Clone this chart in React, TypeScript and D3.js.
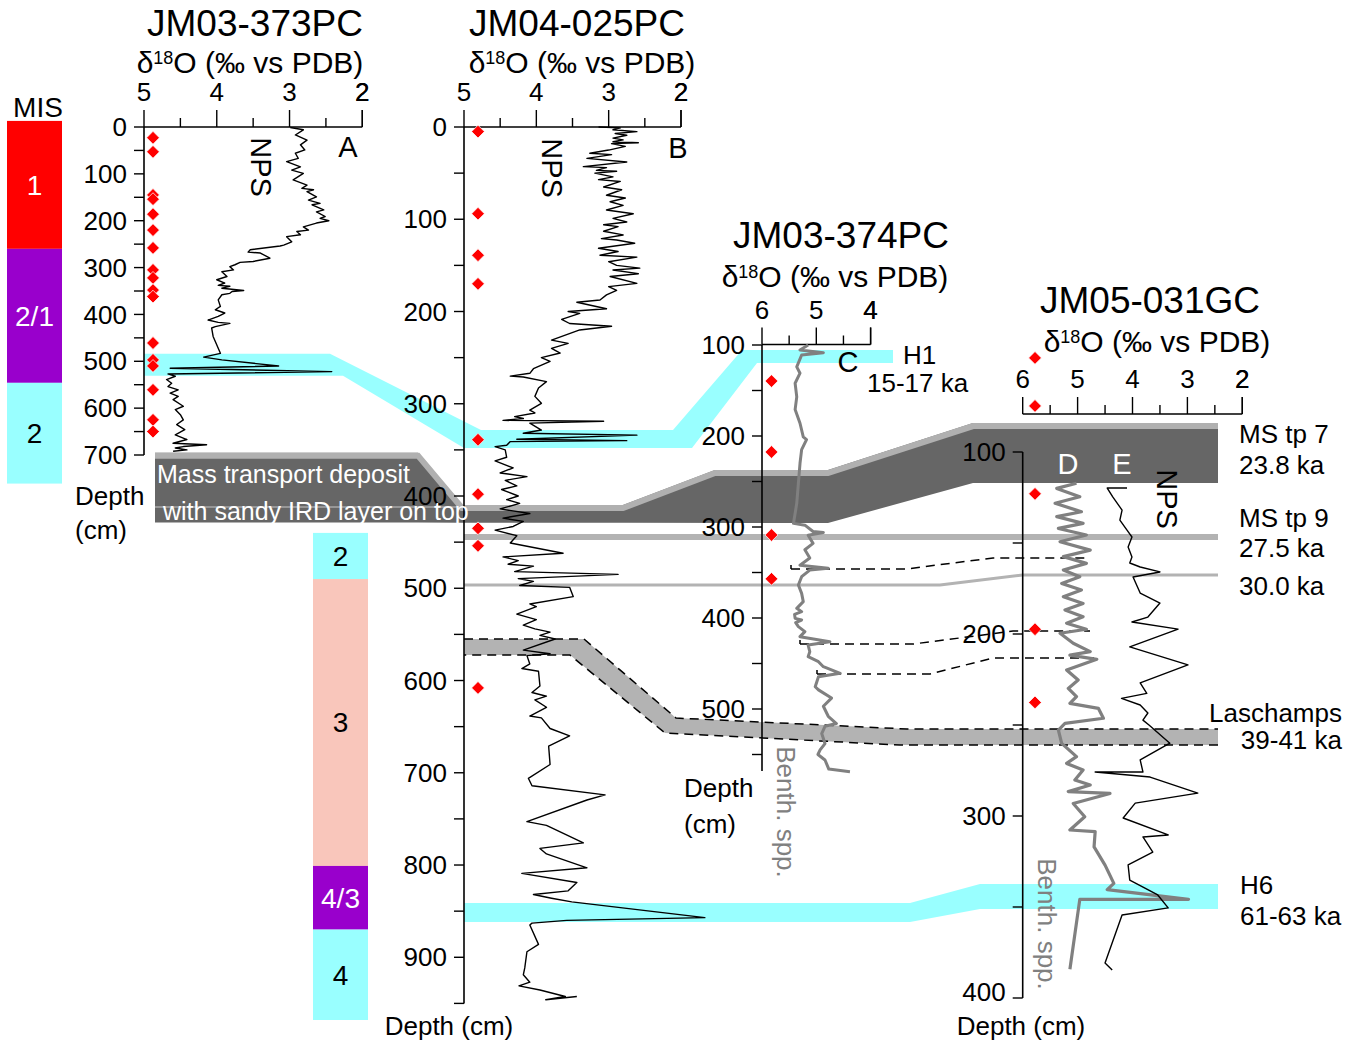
import React from 'react';
import * as d3 from 'd3';

type Pt = [number, number]; // [depth (cm), δ18O (‰)]
type Core = 'A' | 'B' | 'C' | 'D';

// ---------- isotope records ----------
// JM03-373PC, N. pachyderma (s)
const core373NPS: Pt[] = [
  [1, 2.99], [6, 2.81], [17, 2.92], [28, 2.76], [38, 2.85], [49, 2.79], [56, 2.92], [67, 2.88], [74, 3.04],
  [85, 2.85], [92, 2.97], [99, 2.81], [113, 2.95], [124, 2.76], [131, 2.83], [134, 2.67], [138, 2.76],
  [149, 2.63], [156, 2.74], [163, 2.58], [166, 2.69], [177, 2.53], [181, 2.63], [191, 2.51], [195, 2.58],
  [200, 2.46], [205, 2.63], [213, 2.81], [220, 2.74], [223, 2.9], [230, 2.85], [234, 3.04], [245, 2.97],
  [252, 3.08], [254, 3.13], [262, 3.54], [267, 3.57], [269, 3.4], [280, 3.27], [287, 3.5], [289, 3.68],
  [294, 3.75], [298, 3.82], [305, 3.77], [309, 3.93], [319, 3.86], [326, 4.0], [333, 3.89], [338, 3.98],
  [340, 3.82], [344, 3.93], [349, 3.63], [351, 3.79], [355, 3.82], [358, 3.93], [369, 3.98], [383, 3.95],
  [390, 4.02], [397, 3.89], [404, 3.98], [412, 4.12], [417, 3.98], [419, 3.82], [426, 4.02], [429, 4.07],
  [447, 4.05], [483, 3.95], [491, 4.18], [497, 3.93], [510, 3.15], [515, 4.64], [522, 2.42], [527, 4.67],
  [532, 4.57], [539, 4.69], [547, 4.62], [554, 4.67], [561, 4.53], [568, 4.64], [575, 4.53], [582, 4.6],
  [596, 4.46], [603, 4.57], [614, 4.5], [625, 4.46], [635, 4.55], [646, 4.44], [657, 4.57], [667, 4.41],
  [675, 4.6], [678, 4.14], [682, 4.46], [685, 4.57], [689, 4.41], [692, 4.6],
];

// JM04-025PC, N. pachyderma (s)
const core025NPS: Pt[] = [
  [0, 3.14], [1, 2.84], [3, 2.94], [5, 2.61], [7, 2.91], [9, 2.75], [12, 2.94], [14, 2.8], [16, 2.94],
  [17, 2.59], [18, 2.96], [21, 2.77], [25, 3.0], [28.5, 3.26], [30, 2.96], [34, 3.3], [38, 2.75], [43, 3.35],
  [44, 3.03], [47, 3.17], [48, 2.89], [50, 3.19], [54, 2.94], [57, 3.14], [59, 2.84], [65, 3.07], [68, 2.82],
  [74, 3.03], [77, 2.77], [81, 2.98], [85, 2.8], [90, 3.03], [94, 2.66], [99, 2.94], [103, 2.75], [106, 3.07],
  [108, 2.87], [113, 3.07], [117, 2.8], [121, 3.1], [122.5, 2.89], [126, 2.64], [131.5, 3.14], [135, 2.87],
  [139, 3.12], [141, 2.61], [146, 3.0], [150, 2.89], [153, 2.57], [155, 2.94], [159, 2.59], [162, 2.98],
  [169.5, 2.61], [173, 3.0], [177, 2.89], [182, 3.03], [187.5, 3.12], [190, 3.44], [197, 3.03], [200, 3.56],
  [202, 3.4], [208.5, 3.65], [213, 3.54], [216, 2.96], [220, 3.4], [231, 3.79], [234.5, 3.56], [240, 3.79],
  [245, 3.67], [250, 3.93], [254, 3.81], [262, 4.04], [267, 4.09], [270, 4.36], [271, 4.18], [276, 3.86],
  [283, 3.97], [292, 4.02], [299.5, 3.93], [307, 4.09], [310, 4.02], [314, 4.3], [316, 4.18], [318, 4.46],
  [319, 3.07], [321, 4.09], [328.5, 3.93], [332, 4.18], [334, 2.61], [338.5, 4.27], [340, 2.75], [341, 4.36],
  [345, 4.41], [346.5, 4.57], [350, 4.43], [358, 4.41], [362, 4.57], [369.5, 4.32], [375, 4.5], [379, 4.13],
  [383, 4.43], [389, 4.27], [393, 4.48], [400, 4.25], [404, 4.41], [408, 4.23], [414, 4.5], [419, 4.09],
  [424, 4.46], [427.5, 4.18], [433, 4.32], [437, 4.57], [443, 4.27], [451, 4.36], [462, 3.63], [466, 4.46],
  [470, 4.25], [474, 4.39], [476, 4.04], [482, 4.3], [485, 2.87], [489.5, 4.25], [492.6, 4.04], [497, 4.23],
  [499, 3.54], [509, 3.49], [517, 4.09], [520, 4.0], [528, 4.27], [534, 4.0], [540, 4.18], [544, 4.02],
  [547.5, 3.81], [551, 3.95], [555, 3.74], [567, 4.18], [571, 3.81], [573, 4.13], [582, 4.09], [587, 4.2],
  [590, 3.97], [606, 3.95], [613, 4.06], [617, 3.86], [621, 4.02], [629, 3.86], [638.5, 4.09], [640.5, 3.93],
  [652, 3.81], [660, 3.54], [671, 3.83], [691, 3.81], [706, 4.11], [714, 4.06], [724, 3.05], [729.5, 3.3],
  [753, 4.13], [757, 3.86], [776, 3.35], [782, 3.95], [788, 3.86], [803, 3.3], [809, 4.2], [819, 3.44],
  [828, 3.56], [832, 4.04], [836, 3.79], [840, 3.51], [857, 1.67], [860, 3.58], [863, 4.06], [865, 4.09],
  [886, 3.97], [894, 4.13], [911.5, 4.16], [919, 4.18], [927, 4.09], [931, 4.24], [935.5, 3.95], [942.5, 3.6],
  [946, 3.87], [942.5, 3.44],
];

// JM03-374PC, benthic species
const core374Benth: Pt[] = [
  [100, 5.15], [105.5, 5.3], [108.4, 4.87], [111, 5.27], [124, 5.36], [131, 5.3], [142, 5.39], [157, 5.36],
  [171, 5.39], [186, 5.3], [201, 5.24], [204, 5.18], [215, 5.27], [230, 5.3], [252, 5.33], [274, 5.36],
  [296, 5.42], [298, 5.21], [305, 5.06], [306, 4.87], [309, 5.15], [318, 5.06], [325, 5.21], [334, 5.12],
  [342, 5.3], [345.4, 4.78], [347.3, 5.12], [354.6, 5.27], [363.7, 5.33], [372.9, 5.27], [382, 5.24],
  [389.4, 5.36], [393, 5.27], [396, 5.4], [400.4, 5.39], [402.2, 5.27], [405, 5.38], [409.5, 5.33], [415, 5.21],
  [420.5, 5.3], [426, 4.75], [429.7, 5.15], [437, 5.12], [442.5, 5.15], [448, 4.96], [453.5, 4.87],
  [460.8, 4.56], [464.5, 4.96], [475.5, 5.02], [479, 4.96], [488, 4.72], [497, 4.87], [508, 4.78],
  [516, 4.63], [519, 4.84], [527, 4.9], [538, 4.84], [545, 4.93], [550, 4.97], [556, 4.84], [566, 4.77],
  [569, 4.38],
];

// JM05-031GC, benthic species (D)
const core031Benth: Pt[] = [
  [117.2, 5.02], [120, 5.38], [124.6, 4.96], [128.2, 5.41], [132.8, 4.93], [135.5, 5.38], [139.2, 4.9],
  [142, 5.35], [145.6, 4.84], [149.3, 5.32], [153.9, 4.77], [157.5, 5.26], [161.2, 4.84], [164.8, 5.26],
  [168.5, 4.96], [172.2, 5.29], [175.8, 4.93], [179.5, 5.26], [183.2, 4.9], [186.8, 5.23], [190.5, 4.9],
  [194.1, 5.2], [197.4, 4.84], [199.6, 5.32], [205.1, 5.08], [209.7, 4.77], [211.6, 5.14], [213.9, 4.65],
  [219.8, 5.2], [225.3, 4.99], [229.9, 5.17], [234.4, 5.02], [238.1, 5.14], [240.9, 4.62], [246.3, 4.53],
  [249.1, 5.23], [252.8, 5.35], [260.1, 5.29], [267.4, 5.02], [271.1, 5.2], [274.7, 4.9], [280.2, 5.05],
  [283, 4.77], [286.6, 5.17], [287.6, 4.41], [293.1, 5.08], [300.4, 4.87], [307.7, 5.14], [308.6, 4.68],
  [317, 4.7], [327, 4.5], [337, 4.34], [340.5, 4.46], [345.8, 2.98], [345.8, 4.96], [384.2, 5.14],
];

// JM05-031GC, N. pachyderma (s) (E)
const core031NPS: Pt[] = [
  [119.8, 4.1], [119.8, 4.46], [124.7, 4.36], [131.9, 4.19], [137.4, 4.23], [142.9, 4.1], [146.7, 4.01],
  [152.2, 4.08], [157.7, 4.01], [161, 4.05], [163.2, 3.86], [165.9, 3.5], [168.7, 3.99], [177.5, 3.86],
  [183, 3.5], [190.7, 3.72], [193.4, 4.01], [197.3, 3.17], [207.1, 4.05], [217, 2.99], [226.9, 3.86],
  [232.6, 3.74], [235.4, 4.2], [239, 3.86], [243.4, 3.72], [247.3, 3.81], [250, 3.7], [260, 3.32],
  [269.2, 3.86], [275.8, 3.81], [275.8, 4.68], [278.6, 3.68], [287.4, 2.81], [292.9, 3.95], [301.1, 4.17],
  [310.4, 3.35], [311.5, 3.81], [319.8, 3.63], [326.9, 4.08], [335.2, 4.05], [343.4, 3.54], [350.5, 3.35],
  [354.4, 4.19], [380.8, 4.5], [384.6, 4.37],
];

// ---------- radiocarbon dated levels (cm) ----------
const dates373 = [23, 53, 145, 154, 186, 220, 258, 305, 322, 348, 362, 461, 497, 510, 561, 625, 650];
const dates025 = [5, 94, 139, 170, 339, 398, 435, 454, 608];
const dates374 = [139.6, 217.6, 308.8, 357];
const dates031 = [48.3, 74.7, 123, 197.4, 237.6];

// ---------- marine isotope stages ----------
const misStages373 = ['1', '2/1', '2'];
const misBounds373 = [-13, 260, 546, 761];
const misStages025 = ['2', '3', '4/3', '4'];
const misBounds025 = [440, 490, 801, 870, 968];

// ---------- correlation levels, depth (cm) in each core ----------
const h1Levels = { A: [484, 531], B: [328.5, 348], C: [105.5, 119.8] };
const mtdLevels = { A: [695, 844], B: [409.8, 429], C: [237.4, 295.6], D: [84.1, 117] };
const msTp9Levels = { B: 444.4, C: 311, D: 146.7 };
const ka30Levels = { B: 496.5, C: 363.7, D: 167.6 };
const tieLevels = [
  { C: 346.2, D: 158.2 },
  { C: 428.6, D: 198.4 },
  { C: 461.5, D: 213.2 },
];
const laschampsLevels = { B: [555, 572.4], C: [509.9, 526.4], D: [252.2, 261] };
const h6Levels = { B: [841.2, 861.8], D: [337.4, 351.1] };

// ---------- drawing ----------
const FONT = '"Liberation Sans", Arial, Helvetica, sans-serif';
const CYAN = '#99ffff';
const MIS_COLORS: Record<string, string> = {
  '1': '#ff0000', '2/1': '#9900cc', '2': CYAN, '3': '#f9c6bb', '4/3': '#9900cc', '4': CYAN,
};
const MIS_TEXT: Record<string, string> = {
  '1': '#fff', '2/1': '#fff', '2': '#000', '3': '#000', '4/3': '#fff', '4': '#000',
};

const sx: Record<Core, d3.ScaleLinear<number, number>> = {
  A: d3.scaleLinear().domain([5, 2]).range([144, 362.3]),
  B: d3.scaleLinear().domain([5, 2]).range([464, 681]),
  C: d3.scaleLinear().domain([6, 4]).range([762, 870.6]),
  D: d3.scaleLinear().domain([6, 2]).range([1022.7, 1242.3]),
};
const sy: Record<Core, d3.ScaleLinear<number, number>> = {
  A: d3.scaleLinear().domain([0, 700]).range([127, 455]),
  B: d3.scaleLinear().domain([0, 950]).range([127, 1003.4]),
  C: d3.scaleLinear().domain([100, 500]).range([345, 709]),
  D: d3.scaleLinear().domain([100, 400]).range([452, 998]),
};

type Anchor = [number, Core];
type Levels = Partial<Record<Core, number | number[]>>;

function edge(anchors: Anchor[], levels: Levels, idx: number): [number, number][] {
  return anchors.map(([x, c]) => {
    const lv = levels[c]!;
    const d = Array.isArray(lv) ? lv[idx] : lv;
    return [x, sy[c](d)];
  });
}
const lineGen = d3.line();
function band(top: Anchor[], bottom: Anchor[], levels: Levels): string {
  return lineGen([...edge(top, levels, 0), ...edge(bottom, levels, 1)])! + 'Z';
}

function YAxis({ core, x, from, to, step, labelStep, end, lastDy = 0.35 }: {
  core: Core; x: number; from: number; to: number; step: number; labelStep: number; end: number; lastDy?: number;
}) {
  const s = sy[core];
  const ticks = d3.range(from, to + 0.001, step);
  const labels = ticks.filter((t) => t % labelStep === 0);
  return (
    <g>
      <line x1={x} x2={x} y1={s(from)} y2={s(end)} stroke="#000" strokeWidth={1.6} />
      {ticks.map((t) => (
        <line key={t} x1={x - 10} x2={x} y1={s(t)} y2={s(t)} stroke="#000" strokeWidth={1.4} />
      ))}
      {labels.map((t, i) => (
        <text key={'l' + t} x={x - 17} y={s(t)} dy={`${i === labels.length - 1 ? lastDy : 0.35}em`}
          textAnchor="end" fontSize={26}>{t}</text>
      ))}
    </g>
  );
}

function XAxis({ core, y, lo, hi }: { core: Core; y: number; lo: number; hi: number }) {
  const s = sx[core];
  const ticks = d3.range(lo, hi - 0.001, -0.5).concat([hi]);
  return (
    <g>
      <line x1={s(lo)} x2={s(hi)} y1={y} y2={y} stroke="#000" strokeWidth={1.6} />
      {ticks.map((t) => {
        const major = Number.isInteger(t);
        return <line key={t} x1={s(t)} x2={s(t)} y1={y} y2={y - (major ? 17 : 9)} stroke="#000" strokeWidth={1.4} />;
      })}
      {ticks.filter((t) => Number.isInteger(t)).map((t) => (
        <text key={'l' + t} x={s(t)} y={y - 26} textAnchor="middle" fontSize={26}>{t}</text>
      ))}
    </g>
  );
}

function Header({ x, y, title, tx, ty }: { x: number; y: number; title: string; tx: number; ty: number }) {
  return (
    <g>
      <text x={tx} y={ty} textAnchor="middle" fontSize={37}>{title}</text>
      <text x={x} y={y} textAnchor="middle" fontSize={30}>
        δ<tspan fontSize={18} dy={-9}>18</tspan><tspan dy={9}>O (‰ vs PDB)</tspan>
      </text>
    </g>
  );
}

function Rotated({ x, y, text, size, fill = '#000' }: { x: number; y: number; text: string; size: number; fill?: string }) {
  return (
    <text transform={`translate(${x},${y}) rotate(90)`} textAnchor="middle" dy="0.35em" fontSize={size} fill={fill}>
      {text}
    </text>
  );
}

function Dates({ core, x, depths }: { core: Core; x: number; depths: number[] }) {
  const sym = d3.symbol(d3.symbolSquare, 82)()!;
  return (
    <g>
      {depths.map((d, i) => (
        <path key={i} d={sym} transform={`translate(${x},${sy[core](d)}) rotate(45)`} fill="#ff0000" stroke="#fff" strokeWidth={0.7} />
      ))}
    </g>
  );
}

function MisColumn({ core, x, w, stages, bounds }: { core: Core; x: number; w: number; stages: string[]; bounds: number[] }) {
  const s = sy[core];
  return (
    <g>
      {stages.map((st, i) => {
        const y0 = s(bounds[i]);
        const y1 = s(bounds[i + 1]);
        return (
          <g key={st + i}>
            <rect x={x} y={y0} width={w} height={y1 - y0} fill={MIS_COLORS[st]} />
            <text x={x + w / 2} y={(y0 + y1) / 2} dy="0.35em" textAnchor="middle" fontSize={28} fill={MIS_TEXT[st]}>{st}</text>
          </g>
        );
      })}
    </g>
  );
}

export default function App() {
  const curve = (core: Core) =>
    d3.line<Pt>().x((p) => sx[core](p[1])).y((p) => sy[core](p[0]));

  // connector geometry between cores
  const h1Top: Anchor[] = [[144, 'A'], [330, 'A'], [481, 'B'], [673, 'B'], [742, 'C'], [893, 'C']];
  const h1Bot: Anchor[] = [[893, 'C'], [757, 'C'], [692, 'B'], [464, 'B'], [343, 'A'], [144, 'A']];
  const mtdTop: Anchor[] = [[155, 'A'], [418, 'A'], [462, 'B'], [623, 'B'], [715, 'C'], [828, 'C'], [973, 'D'], [1218, 'D']];
  const mtdBot: Anchor[] = [[1218, 'D'], [973, 'D'], [828, 'C'], [623, 'B'], [462, 'B'], [418, 'A'], [155, 'A']];
  const lasTop: Anchor[] = [[464, 'B'], [584, 'B'], [676, 'C'], [907, 'D'], [1218, 'D']];
  const lasBot: Anchor[] = [[1218, 'D'], [900, 'D'], [665, 'C'], [570, 'B'], [464, 'B']];
  const h6Top: Anchor[] = [[464, 'B'], [910, 'B'], [980, 'D'], [1218, 'D']];
  const h6Bot: Anchor[] = [[1218, 'D'], [980, 'D'], [910, 'B'], [464, 'B']];
  const ms9: Anchor[] = [[464, 'B'], [762, 'C'], [1218, 'D']];
  const ka30: Anchor[] = [[464, 'B'], [940, 'C'], [1022.7, 'D'], [1218, 'D']];
  const ties: Anchor[][] = [
    [[791, 'C'], [906, 'C'], [993, 'D'], [1090, 'D']],
    [[800, 'C'], [913, 'C'], [1013, 'D'], [1090, 'D']],
    [[817, 'C'], [930, 'C'], [993, 'D'], [1100, 'D']],
  ];

  const mtdTopPts = edge(mtdTop, mtdLevels, 0);
  const lasTopPts = edge(lasTop, laschampsLevels, 0);
  const lasBotPts = edge(lasBot, laschampsLevels, 1);

  return (
    <svg width={1356} height={1044} viewBox="0 0 1356 1044"
      style={{ position: 'absolute', left: 0, top: 0, background: '#fff' }}
      fontFamily={FONT}>
      {/* stage columns */}
      <text x={38} y={117} textAnchor="middle" fontSize={28}>MIS</text>
      <MisColumn core="A" x={7} w={55} stages={misStages373} bounds={misBounds373} />
      <MisColumn core="B" x={313} w={55} stages={misStages025} bounds={misBounds025} />

      {/* correlation bands */}
      <path d={band(h1Top, h1Bot, h1Levels)} fill={CYAN} />
      <path d={band(h6Top, h6Bot, h6Levels)} fill={CYAN} />
      <path d={band(lasTop, lasBot, laschampsLevels)} fill="#b3b3b3" />
      <path d={lineGen(edge(ms9, msTp9Levels, 0))!} fill="none" stroke="#b3b3b3" strokeWidth={6} />
      <path d={lineGen(edge(ka30, ka30Levels, 0))!} fill="none" stroke="#b3b3b3" strokeWidth={3} />
      <path d={band(mtdTop, mtdBot, mtdLevels)} fill="#666666" />
      <path d={lineGen(mtdTopPts)!} transform="translate(0,3)" fill="none" stroke="#b0b0b0" strokeWidth={6} />
      <line x1={155} x2={462} y1={507} y2={507} stroke="#a8a8a8" strokeWidth={1.5} />
      <path d={lineGen(lasTopPts)!} fill="none" stroke="#000" strokeWidth={1.5} strokeDasharray="9 6" />
      <path d={lineGen(lasBotPts)!} fill="none" stroke="#000" strokeWidth={1.5} strokeDasharray="9 6" />
      {ties.map((t, i) => {
        const pts = edge(t, tieLevels[i] as Levels, 0);
        return (
          <g key={i}>
            <path d={lineGen(pts)!} fill="none" stroke="#000" strokeWidth={1.5} strokeDasharray="9 6" />
            <line x1={pts[0][0]} x2={pts[0][0]} y1={pts[0][1]} y2={pts[0][1] - 4} stroke="#000" strokeWidth={1.5} />
          </g>
        );
      })}

      {/* axes */}
      <XAxis core="A" y={127} lo={5} hi={2} />
      <YAxis core="A" x={144} from={0} to={700} step={50} labelStep={100} end={700} />
      <XAxis core="B" y={127} lo={5} hi={2} />
      <YAxis core="B" x={464} from={0} to={950} step={50} labelStep={100} end={950} />
      <XAxis core="C" y={344.5} lo={6} hi={4} />
      <YAxis core="C" x={762} from={100} to={550} step={50} labelStep={100} end={568} />
      <XAxis core="D" y={414} lo={6} hi={2} />
      <YAxis core="D" x={1022.7} from={100} to={400} step={50} labelStep={100} end={400} lastDy={0.1} />

      {/* records */}
      <path d={curve('A')(core373NPS)!} fill="none" stroke="#000" strokeWidth={1.4} strokeLinejoin="round" />
      <path d={curve('B')(core025NPS)!} fill="none" stroke="#000" strokeWidth={1.4} strokeLinejoin="round" />
      <path d={curve('C')(core374Benth)!} fill="none" stroke="#808080" strokeWidth={3} strokeLinejoin="round" />
      <path d={curve('D')(core031Benth)!} fill="none" stroke="#808080" strokeWidth={3.2} strokeLinejoin="round" />
      <path d={curve('D')(core031NPS)!} fill="none" stroke="#000" strokeWidth={1.4} strokeLinejoin="round" />

      {/* dated levels */}
      <Dates core="A" x={153} depths={dates373} />
      <Dates core="B" x={478} depths={dates025} />
      <Dates core="C" x={771.5} depths={dates374} />
      <Dates core="D" x={1035} depths={dates031} />

      {/* headers */}
      <Header title="JM03-373PC" tx={255} ty={36} x={250} y={73} />
      <Header title="JM04-025PC" tx={577} ty={36} x={582} y={73} />
      <Header title="JM03-374PC" tx={841} ty={248} x={835} y={287} />
      <Header title="JM05-031GC" tx={1150} ty={313} x={1157} y={352} />

      {/* panel annotations */}
      <Rotated x={261} y={167} text="NPS" size={29} />
      <Rotated x={552} y={168} text="NPS" size={29} />
      <Rotated x={1167} y={499} text="NPS" size={29} />
      <Rotated x={786} y={812} text="Benth. spp." size={26} fill="#808080" />
      <Rotated x={1047} y={924} text="Benth. spp." size={26} fill="#808080" />
      <text x={348} y={157} textAnchor="middle" fontSize={29}>A</text>
      <text x={678} y={158} textAnchor="middle" fontSize={29}>B</text>
      <text x={848} y={372} textAnchor="middle" fontSize={29}>C</text>
      <text x={1068} y={474} textAnchor="middle" fontSize={29} fill="#fff">D</text>
      <text x={1122} y={474} textAnchor="middle" fontSize={29} fill="#fff">E</text>

      <text x={157} y={483} fontSize={25} fill="#fff">Mass transport deposit</text>
      <text x={163} y={520} fontSize={25} fill="#fff">with sandy IRD layer on top</text>

      {/* depth labels */}
      <text x={75} y={505} fontSize={26}>Depth</text>
      <text x={75} y={539} fontSize={26}>(cm)</text>
      <text x={449} y={1035} textAnchor="middle" fontSize={26}>Depth (cm)</text>
      <text x={684} y={797} fontSize={26}>Depth</text>
      <text x={684} y={833} fontSize={26}>(cm)</text>
      <text x={1021} y={1035} textAnchor="middle" fontSize={26}>Depth (cm)</text>

      {/* event labels */}
      <text x={903} y={364} fontSize={26}>H1</text>
      <text x={867} y={392} fontSize={26}>15-17 ka</text>
      <text x={1239} y={443} fontSize={26}>MS tp 7</text>
      <text x={1239} y={474} fontSize={26}>23.8 ka</text>
      <text x={1239} y={527} fontSize={26}>MS tp 9</text>
      <text x={1239} y={557} fontSize={26}>27.5 ka</text>
      <text x={1239} y={595} fontSize={26}>30.0 ka</text>
      <text x={1342} y={722} textAnchor="end" fontSize={26}>Laschamps</text>
      <text x={1342} y={749} textAnchor="end" fontSize={26}>39-41 ka</text>
      <text x={1240} y={894} fontSize={26}>H6</text>
      <text x={1240} y={925} fontSize={26}>61-63 ka</text>
    </svg>
  );
}
